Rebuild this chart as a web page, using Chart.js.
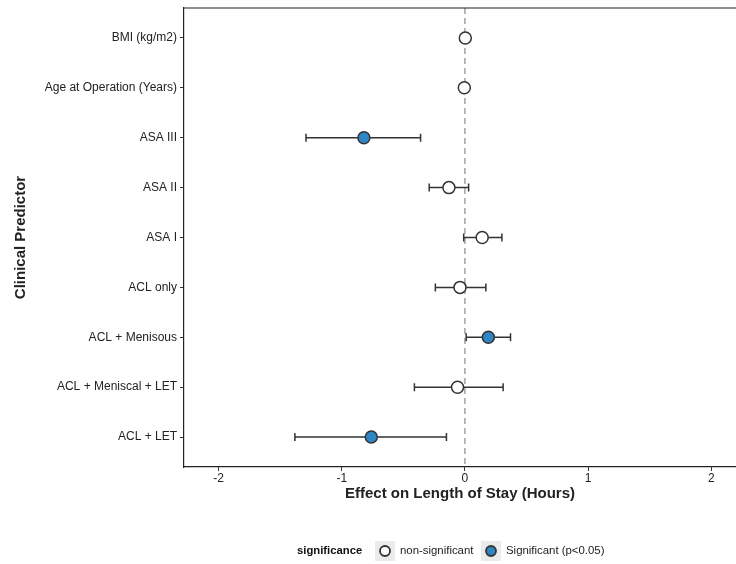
<!DOCTYPE html>
<html>
<head>
<meta charset="utf-8">
<script src="https://cdn.jsdelivr.net/npm/chart.js@4/dist/chart.umd.min.js"></script>
<style>
  html, body { margin: 0; padding: 0; background: #fff; }
  #wrap { width: 736px; height: 564px; position: relative; }
</style>
</head>
<body>
<div id="wrap"><canvas id="c" width="736" height="564"></canvas></div>
<script>
// predictors, top to bottom
const predictors = ['BMI (kg/m2)', 'Age at Operation (Years)', 'ASA III', 'ASA II', 'ASA I',
  'ACL only', 'ACL + Menisous', 'ACL + Meniscal + LET', 'ACL + LET'];
const estimate = [0.003, -0.005, -0.82, -0.13, 0.14, -0.04, 0.19, -0.06, -0.76];
const ciLow = [0.0, -0.008, -1.29, -0.29, -0.01, -0.24, 0.01, -0.41, -1.38];
const ciHigh = [0.006, -0.002, -0.36, 0.03, 0.30, 0.17, 0.37, 0.31, -0.15];
const significant = [false, false, true, false, false, false, true, false, true];
const xTicks = [-2, -1, 0, 1, 2];

const BLUE = '#2f86c4';
const EDGE = '#333333';

const pts = predictors.map((p, i) => ({ x: estimate[i], y: i }));

// error bars + zero line + frame
const extras = {
  id: 'extras',
  beforeDatasetsDraw(chart) {
    const { ctx, chartArea: a, scales: { x, y } } = chart;
    ctx.save();
    // dashed zero line
    const x0 = x.getPixelForValue(0);
    ctx.strokeStyle = '#8a8a8a';
    ctx.lineWidth = 1.2;
    ctx.setLineDash([6, 4]);
    ctx.beginPath(); ctx.moveTo(x0, a.top); ctx.lineTo(x0, a.bottom); ctx.stroke();
    ctx.setLineDash([]);
    // error bars
    ctx.strokeStyle = '#333';
    ctx.lineWidth = 1.5;
    predictors.forEach((p, i) => {
      if (ciHigh[i] - ciLow[i] < 0.02) return;
      const py = y.getPixelForValue(i);
      const l = x.getPixelForValue(ciLow[i]);
      const r = x.getPixelForValue(ciHigh[i]);
      ctx.beginPath();
      ctx.moveTo(l, py); ctx.lineTo(r, py);
      ctx.moveTo(l, py - 4); ctx.lineTo(l, py + 4);
      ctx.moveTo(r, py - 4); ctx.lineTo(r, py + 4);
      ctx.stroke();
    });
    // top border
    ctx.strokeStyle = '#222';
    ctx.lineWidth = 1.2;
    ctx.beginPath(); ctx.moveTo(a.left, a.top); ctx.lineTo(a.right, a.top); ctx.stroke();
    ctx.restore();
  },
  afterDraw(chart) {
    // legend
    const ctx = chart.ctx;
    ctx.save();
    const ly = 551;
    ctx.textBaseline = 'middle';
    ctx.fillStyle = '#111';
    ctx.font = 'bold 11.3px "Liberation Sans", Arial, sans-serif';
    ctx.fillText('significance', 297, ly);
    const items = [
      { x: 375, fill: '#ffffff', text: 'non-significant' },
      { x: 481, fill: BLUE, text: 'Significant (p<0.05)' }
    ];
    items.forEach(it => {
      ctx.fillStyle = '#ebebeb';
      ctx.fillRect(it.x, ly - 10, 20, 20);
      ctx.beginPath();
      ctx.arc(it.x + 10, ly, 5, 0, Math.PI * 2);
      ctx.fillStyle = it.fill;
      ctx.fill();
      ctx.strokeStyle = EDGE;
      ctx.lineWidth = 1.8;
      ctx.stroke();
      ctx.fillStyle = '#222';
      ctx.font = '11.4px "Liberation Sans", Arial, sans-serif';
      ctx.fillText(it.text, it.x + 25, ly);
    });
    ctx.restore();
  }
};

new Chart(document.getElementById('c'), {
  type: 'scatter',
  data: {
    datasets: [{
      data: pts,
      pointRadius: 6,
      pointHoverRadius: 6,
      pointBackgroundColor: significant.map(s => s ? BLUE : '#ffffff'),
      pointBorderColor: EDGE,
      pointBorderWidth: 1.5
    }]
  },
  options: {
    responsive: false,
    animation: false,
    layout: { autoPadding: false, padding: { top: 8, right: 0, bottom: 57, left: 0 } },
    plugins: { legend: { display: false }, tooltip: { enabled: false } },
    scales: {
      x: {
        type: 'linear',
        min: -2.28,
        max: 2.2,
        afterFit(s) { s.height = 40; s.paddingLeft = 0; s.paddingRight = 0; },
        afterBuildTicks(s) { s.ticks = xTicks.map(v => ({ value: v })); },
        ticks: { color: '#222', font: { family: '"Liberation Sans", Arial', size: 12 }, padding: 0 },
        grid: { drawOnChartArea: false, tickLength: 4, color: '#333', tickWidth: 1 },
        border: { color: '#222', width: 1.2 },
        title: {
          display: true,
          text: 'Effect on Length of Stay (Hours)',
          color: '#222',
          font: { family: '"Liberation Sans Narrow", "Liberation Sans", Arial', size: 15, weight: 'bold' },
          padding: { top: 3 }
        }
      },
      y: {
        type: 'linear',
        min: -0.6,
        max: 8.6,
        reverse: true,
        afterFit(s) { s.width = 184; s.paddingTop = 0; s.paddingBottom = 0; },
        afterBuildTicks(s) { s.ticks = predictors.map((p, i) => ({ value: i })); },
        ticks: {
          color: '#222',
          font: { family: '"Liberation Sans", Arial', size: 12 },
          padding: 3,
          callback: v => predictors[v]
        },
        grid: { drawOnChartArea: false, tickLength: 4, color: '#333', tickWidth: 1 },
        border: { color: '#222', width: 1.2 },
        title: {
          display: true,
          text: 'Clinical Predictor',
          color: '#222',
          font: { family: '"Liberation Sans Narrow", "Liberation Sans", Arial', size: 15, weight: 'bold' },
          padding: { top: 12, bottom: 0 }
        }
      }
    }
  },
  plugins: [extras]
});
</script>
</body>
</html>
